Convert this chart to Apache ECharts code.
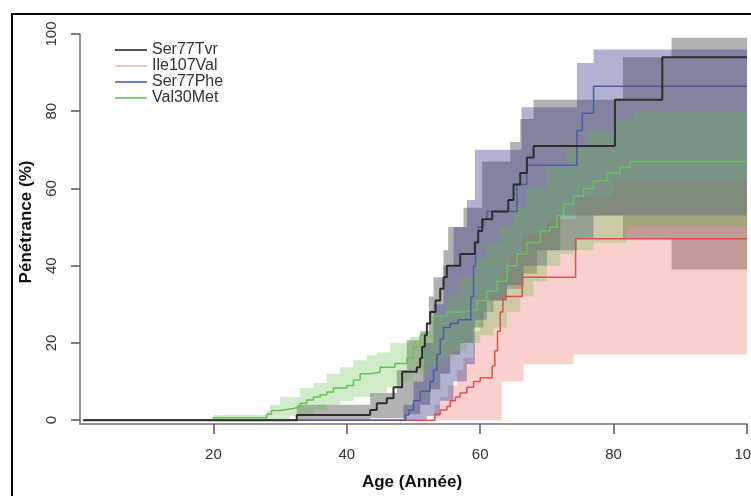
<!DOCTYPE html>
<html><head><meta charset="utf-8">
<script src="https://cdn.jsdelivr.net/npm/echarts@6/dist/echarts.min.js"></script>
<style>html,body{margin:0;padding:0;background:#fff}#c{width:751px;height:496px}</style>
</head><body><div id="c"></div>
<script>
// ---- data (age in years, penetrance in %) ----
const seriesNames = ['Ser77Tvr', 'Ile107Val', 'Ser77Phe', 'Val30Met'];
const ageTicks = [20, 40, 60, 80, 100];
const pctTicks = [0, 20, 40, 60, 80, 100];

const tvrLine = [[0.5,0],[32.5,1.3],[43.5,2.6],[44.5,4.4],[46,5.7],[47,8.5],[48.3,12.5],[50.5,13.7],[51,16],[51.3,19],[51.7,22],[52,25],[52.5,28],[53.3,31],[54,34],[54.5,37],[55,40],[57,43],[59.2,46],[59.7,49],[60.3,52],[61.8,54],[64.2,57],[65,61],[66,64],[67,68],[68,71],[80.2,83],[87.3,94],[100,94]];
const tvrUpper = [[0.5,0],[32.5,4],[43.5,7],[47.5,13],[49,20.7],[51,23],[52.3,32],[53,37],[54.5,44],[55.2,50],[57.5,55],[60.3,67],[64.5,72],[66,78],[68,83],[81.4,94],[88.7,99],[100,99]];
const tvrLower = [[0.5,0],[43.5,0.5],[49,1.5],[51,4],[52.5,8],[54,12],[55.5,17],[57,20],[59,24],[60.5,28],[62,31],[64,34],[66.5,38],[68.5,44],[72,53],[81.4,47],[88.7,39],[100,39]];

const ileLine = [[0.5,0],[53.2,1.5],[54,2.6],[55,3.5],[55.5,5],[56.3,6],[57,7],[58,8.5],[59,10],[60,11],[61.8,14],[62.2,18],[62.6,23],[63,28],[63.4,32],[66.3,37],[74.3,47],[100,47]];
const ileUpper = [[0.5,0],[53.2,4],[54,6],[55.2,9],[56.5,13],[57.5,16],[59,23],[60,28],[61.5,33],[63,38],[64.5,43],[66.3,48],[70,52],[74.3,58],[80,62],[100,62]];
const ileLower = [[0.5,0],[63.2,10],[66.5,14.5],[74,17],[100,17]];

const pheLine = [[0.5,0],[48.8,1.3],[49.3,2.6],[50,5],[51,7.5],[52.5,10],[53,13],[53.5,17],[54,21],[54.5,24],[55.5,25],[56.7,26],[58.6,32],[59,40],[59.3,46],[59.7,50],[60.5,52],[61,54],[65.5,61],[67,66],[74.5,75],[75.3,79.5],[77,86.5],[100,86.5]];
const pheUpper = [[0.5,0],[48.5,4],[50,10],[51.5,20],[53,30],[54.5,40],[56,50],[58,57],[59.2,70],[66.2,81],[74.5,92.5],[77,96],[100,96]];
const pheLower = [[0.5,0],[52,1],[54,5],[56,10],[58,14.5],[59.2,26],[61,31],[64,35],[66.5,40],[70,44],[74.5,47],[77,53],[100,53]];

const valLine = [[0.5,0],[20,0.6],[28,1.5],[28.7,2.5],[30,3],[32,3.5],[33,4.4],[34,5.2],[35,6],[36,6.6],[37,7.3],[38,8.3],[40,9],[41,10.4],[42,12],[43.5,12.4],[45,13.7],[47.2,14.7],[49,16],[50,19],[51,22],[52,25],[53,27],[55,28],[57.5,28.5],[59.5,31],[61,33.5],[62.5,36],[64,40],[65.5,43],[67,46],[69,49],[70.5,50],[71.5,53],[72.5,56],[74,58],[75.5,60],[77,62],[79,64],[81,65.5],[82.5,67],[100,67]];
const valUpper = [[0.5,0],[20,1.3],[28,2.5],[28.5,4],[30,6],[33,8.3],[35,9.6],[37,12],[39,13.7],[41,15.5],[43,16.8],[44.5,17.5],[46.5,20],[49.5,21.5],[51.5,23],[53,27],[55,32],[57,37],[59,42],[61,46],[63,50],[65,55],[67,60],[70,66],[73,71],[76,75],[80,78],[83,80],[100,80]];
const valLower = [[0.5,0],[31.5,1],[35,2.5],[37,4],[39,5],[41,6],[44,7],[46,8.5],[48,10],[50,12],[52,14],[54,16],[56,18],[58,20],[60,22],[62,24],[64,28],[66,32],[68,36],[70,40],[72,43],[74,44],[77,46],[82,50],[100,50]];

// ---- styling ----
const lineColors = ['#2e2e2e', '#e2504f', '#4a5ea6', '#6cbf62'];
const legendColors = ['#555555', '#f2c6c6', '#6f80bf', '#86cc86'];
const bandFills = ['rgba(95,95,90,0.48)', 'rgba(240,100,90,0.30)', 'rgba(60,60,140,0.40)', 'rgba(100,190,70,0.30)'];

function stepPoints(arr) {
  const out = [];
  for (let i = 0; i < arr.length; i++) {
    out.push([arr[i][0], arr[i][1]]);
    if (i < arr.length - 1) out.push([arr[i + 1][0], arr[i][1]]);
  }
  return out;
}
function bandSeries(name, upper, lower, fill) {
  return {
    type: 'custom', name: name + ' IC', silent: true, z: 1,
    coordinateSystem: 'cartesian2d',
    data: [[0, 0]],
    renderItem: function (params, api) {
      const up = stepPoints(upper);
      const lo = stepPoints(lower).reverse();
      const pts = up.concat(lo).map(p => api.coord(p));
      return { type: 'polygon', shape: { points: pts }, style: { fill: fill, stroke: null } };
    }
  };
}
function lineSeries(i, data, width) {
  return {
    type: 'line', name: seriesNames[i], data: data, step: 'end',
    showSymbol: false, symbol: 'none', z: 3, silent: true,
    color: lineColors[i],
    lineStyle: { color: lineColors[i], width: width }
  };
}

const chart = echarts.init(document.getElementById('c'), null, { renderer: 'canvas' });
const font = 'Liberation Sans, Arial, sans-serif';
chart.setOption({
  animation: false,
  backgroundColor: '#ffffff',
  grid: { left: 80, right: 4, top: 34, bottom: 72, containLabel: false, outerBoundsMode: 'none' },
  xAxis: {
    type: 'value', min: 0, max: 100,
    axisLine: { show: true, onZero: false, lineStyle: { color: '#707070', width: 1.5 } },
    axisTick: { show: true, customValues: ageTicks, length: 10, lineStyle: { color: '#555', width: 1.5 } },
    axisLabel: { customValues: ageTicks, margin: 23, fontSize: 15, color: '#333', fontFamily: font, hideOverlap: false },
    splitLine: { show: false }
  },
  yAxis: {
    type: 'value', min: -1, max: 100,
    axisLine: { show: true, onZero: false, lineStyle: { color: '#707070', width: 1.5 } },
    axisTick: { show: true, customValues: pctTicks, length: 9, lineStyle: { color: '#555', width: 1.5 } },
    axisLabel: { customValues: pctTicks, rotate: 90, margin: 21, fontSize: 15, color: '#333', fontFamily: font },
    splitLine: { show: false }
  },
  legend: {
    orient: 'vertical', left: 110, top: 37,
    icon: 'rect', itemWidth: 32, itemHeight: 2, itemGap: 0,
    selectedMode: false,
    textStyle: { fontSize: 16, lineHeight: 16, color: '#333', fontFamily: font },
    data: seriesNames.map((n, i) => ({ name: n, itemStyle: { color: legendColors[i] } }))
  },
  graphic: [
    { type: 'rect', shape: { x: 12, y: 14, width: 780, height: 520 }, style: { fill: 'none', stroke: '#000', lineWidth: 2 }, silent: true },
    { type: 'text', x: 412, y: 482, style: { text: 'Age (Année)', font: 'bold 17px Liberation Sans, Arial, sans-serif', fill: '#111', align: 'center', verticalAlign: 'middle' } },
    { type: 'text', x: 26.5, y: 222, rotation: Math.PI / 2, style: { text: 'Pénétrance (%)', font: 'bold 17px Liberation Sans, Arial, sans-serif', fill: '#111', align: 'center', verticalAlign: 'middle' } }
  ],
  series: [
    bandSeries(seriesNames[0], tvrUpper, tvrLower, bandFills[0]),
    bandSeries(seriesNames[1], ileUpper, ileLower, bandFills[1]),
    bandSeries(seriesNames[2], pheUpper, pheLower, bandFills[2]),
    bandSeries(seriesNames[3], valUpper, valLower, bandFills[3]),
    lineSeries(3, valLine, 1.5),
    lineSeries(1, ileLine, 1.5),
    lineSeries(2, pheLine, 1.5),
    lineSeries(0, tvrLine, 2)
  ]
});
</script>
</body></html>
